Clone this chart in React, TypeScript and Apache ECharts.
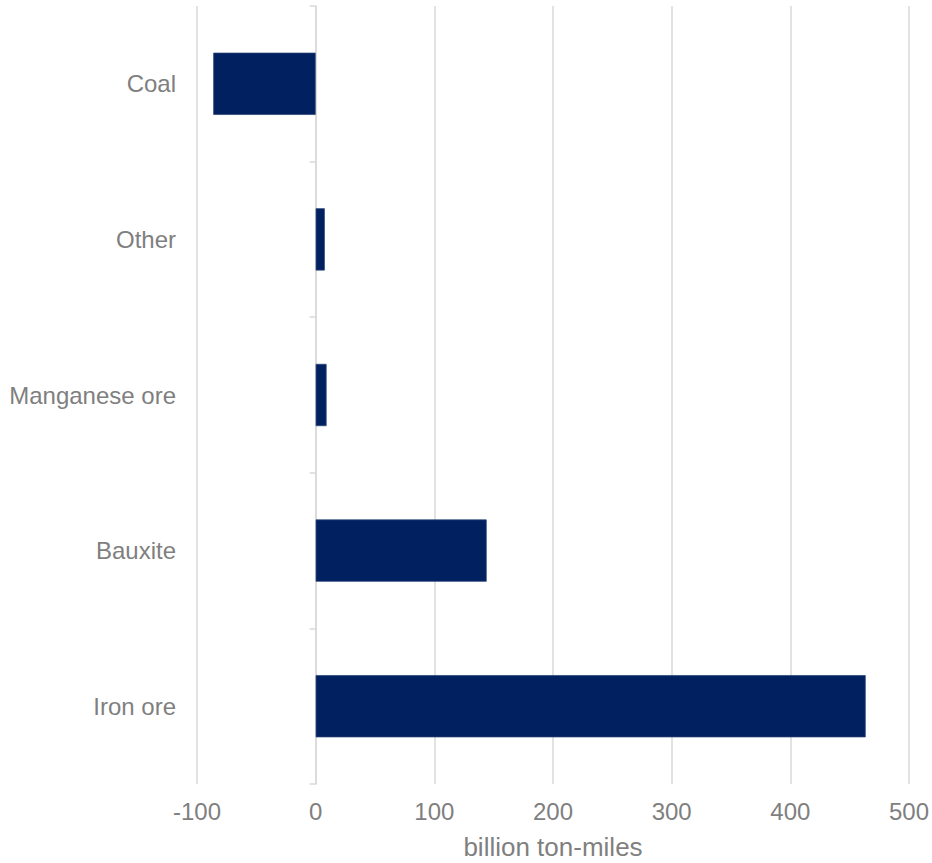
import React, { useEffect, useRef } from "react";
import * as echarts from "echarts";

// Change in seaborne dry bulk trade, by commodity (top to bottom)
const categories = ["Coal", "Other", "Manganese ore", "Bauxite", "Iron ore"];
const values = [-86.3, 7.7, 9.2, 144.1, 463.5];
const axisTitle = "billion ton-miles";

const TEXT = "#7f7f7f";
const GRID = "#d9d9d9";
const BAR = "#002060";
const FONT = "Liberation Sans, Arial, sans-serif";

export default function App() {
  const ref = useRef<HTMLDivElement>(null);

  useEffect(() => {
    if (!ref.current) return;
    const chart = echarts.init(ref.current, undefined, { renderer: "svg" });
    chart.setOption({
      animation: false,
      backgroundColor: "#ffffff",
      grid: {
        left: 197,
        right: 23,
        top: 6,
        bottom: 79,
        containLabel: false,
        outerBoundsMode: "none",
      },
      xAxis: {
        type: "value",
        min: -100,
        max: 500,
        interval: 100,
        name: axisTitle,
        nameLocation: "middle",
        nameGap: 50,
        nameTextStyle: { color: TEXT, fontSize: 26, fontFamily: FONT },
        axisLine: { show: false },
        axisTick: { show: false },
        axisLabel: { color: TEXT, fontSize: 24, fontFamily: FONT, margin: 15 },
        splitLine: { show: true, lineStyle: { color: GRID, width: 1.5 } },
      },
      yAxis: {
        type: "category",
        data: categories,
        inverse: true,
        boundaryGap: true,
        axisLine: { show: true, onZero: true, lineStyle: { color: GRID, width: 1.5 } },
        axisTick: { show: true, length: 6, alignWithLabel: false, lineStyle: { color: GRID, width: 1.5 } },
        // labels sit to the left of the plot edge, not of the zero line
        axisLabel: { color: TEXT, fontSize: 24, fontFamily: FONT, margin: 21 },
        splitLine: { show: false },
      },
      series: [
        {
          type: "bar",
          data: values,
          barWidth: "40%",
          itemStyle: { color: BAR, borderColor: "#2c4476", borderWidth: 0.75 },
        },
      ],
    });
    return () => chart.dispose();
  }, []);

  return (
    <div
      ref={ref}
      style={{ position: "fixed", left: 0, top: 0, width: 932, height: 863, background: "#fff" }}
    />
  );
}
